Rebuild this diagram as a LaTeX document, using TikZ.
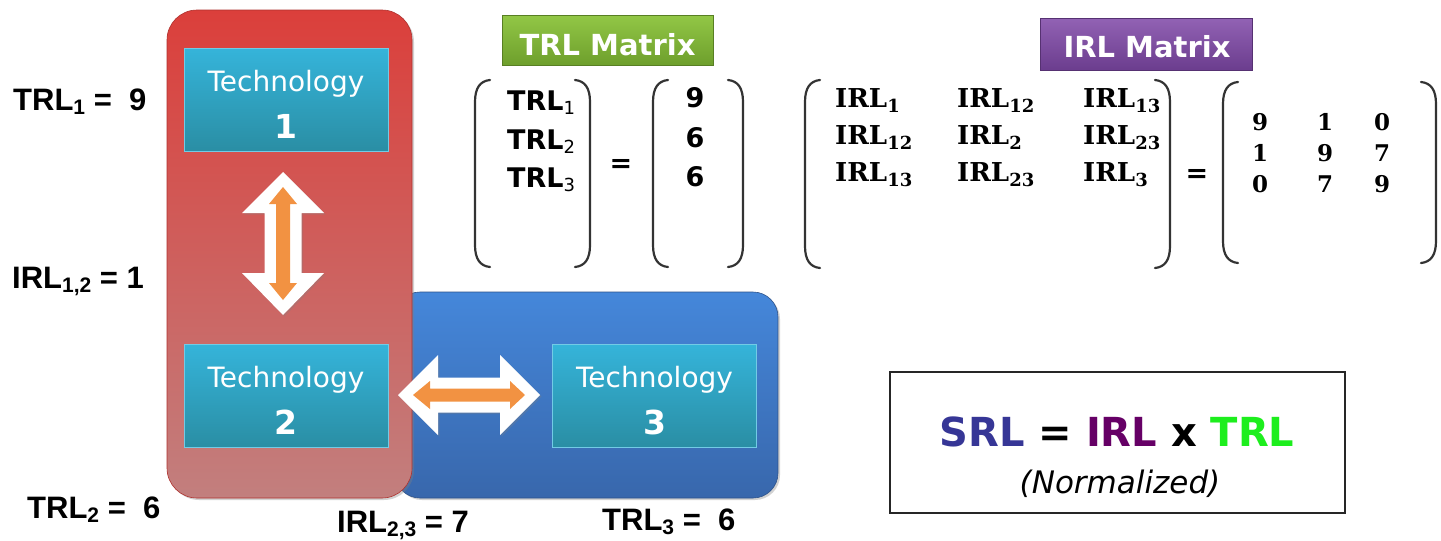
\documentclass[tikz,border=0pt]{standalone}
\usepackage{fontspec}
\setmainfont{Liberation Sans}
\newfontfamily\dvs{DejaVu Sans}
\newfontfamily\dvser{DejaVu Serif}
\usetikzlibrary{shadows,calc}
\newcommand{\myfs}[1]{\fontsize{#1}{#1}\selectfont}
\newcommand{\asub}[1]{\raisebox{-4pt}{\myfs{21}#1}}
\newcommand{\dsub}[1]{\raisebox{-4pt}{\mdseries\myfs{18}#1}}
\newcommand{\ssub}[1]{\raisebox{-5pt}{\myfs{18}#1}}
\definecolor{redtop}{HTML}{DB3F3B}
\definecolor{redmid}{HTML}{CD5350}
\definecolor{redbot}{HTML}{C27F7E}
\definecolor{bluetop}{HTML}{4587DA}
\definecolor{bluebot}{HTML}{3867AC}
\definecolor{tealtop}{HTML}{35B4DA}
\definecolor{tealbot}{HTML}{2A8EA4}
\definecolor{arrorange}{HTML}{F29242}
\definecolor{greentop}{HTML}{92C746}
\definecolor{greenbot}{HTML}{6E9F2C}
\definecolor{purptop}{HTML}{9262B4}
\definecolor{purpbot}{HTML}{6B3D8E}
\definecolor{srlblue}{HTML}{363696}
\definecolor{irlpurp}{HTML}{660066}
\definecolor{trlgreen}{HTML}{1DEE1D}
\newcommand{\brkL}[3]{\draw[brk] (#1+15,#2) .. controls (#1+5,#2+1) and (#1,#2+8) .. (#1,#2+22) -- (#1,#3-22) .. controls (#1,#3-8) and (#1+5,#3-1) .. (#1+15,#3);}
\newcommand{\brkR}[3]{\draw[brk] (#1-15,#2) .. controls (#1-5,#2+1) and (#1,#2+8) .. (#1,#2+22) -- (#1,#3-22) .. controls (#1,#3-8) and (#1-5,#3-1) .. (#1-15,#3);}
\tikzset{
  redbox/.style={rounded corners=30pt, top color=redtop, middle color=redmid, bottom color=redbot,
    draw=redtop!80!black, line width=0.6pt, inner sep=0pt,
    drop shadow={opacity=0.35, shadow xshift=2pt, shadow yshift=-2pt}},
  bluebox/.style={rounded corners=25pt, top color=bluetop, bottom color=bluebot,
    draw=bluebot!80!black, line width=0.6pt, inner sep=0pt,
    drop shadow={opacity=0.35, shadow xshift=2pt, shadow yshift=-2pt}},
  techbox/.style={minimum width=204pt, minimum height=103pt, inner sep=0pt,
    top color=tealtop, bottom color=tealbot, draw=tealtop!70!white, line width=0.8pt},
  techword/.style={anchor=base, inner sep=0pt, text=white, font=\dvs\myfs{28}},
  technum/.style={anchor=base, inner sep=0pt, text=white, font=\dvs\bfseries\myfs{33}},
  lbl/.style={anchor=base west, inner sep=0pt, font=\bfseries\myfs{31}},
  whitearrow/.style={fill=white, drop shadow={opacity=0.3, shadow xshift=1.5pt, shadow yshift=-1.5pt}},
  orangearrow/.style={fill=arrorange},
  brk/.style={draw=black!80, line width=2.2pt, line cap=round},
  trlent/.style={anchor=base west, inner sep=0pt, font=\dvs\bfseries\myfs{27}},
  trlnum/.style={anchor=base, inner sep=0pt, font=\dvs\bfseries\myfs{27}},
  irlent/.style={anchor=base west, inner sep=0pt, font=\dvser\bfseries\myfs{26}},
  irlnum/.style={anchor=base, inner sep=0pt, font=\dvser\bfseries\myfs{23}},
  eqs/.style={inner sep=0pt, font=\dvs\bfseries\myfs{27}},
  labbox/.style={inner sep=0pt, draw=#1bot!80!black, line width=0.6pt, top color=#1top, bottom color=#1bot},
  labtext/.style={anchor=base, inner sep=0pt, text=white, font=\dvs\bfseries\myfs{29}}
}
\begin{document}
\begin{tikzpicture}[x=1pt,y=-1pt]
\useasboundingbox[fill=white] (0,0) rectangle (1441,541);

% background panels
\node[bluebox, minimum width=383pt, minimum height=206pt] (blue) at (586.5,395) {};
\node[redbox, minimum width=245pt, minimum height=488pt] (red) at (289.5,254) {};

% technology boxes
\node[techbox] (t1) at (286,99.5) {};
\node[techword] (t1w) at (286,91) {Technology};
\node[technum] (t1n) at (286,138) {1};
\node[techbox] (t2) at (286,395.5) {};
\node[techword] (t2w) at (286,387) {Technology};
\node[technum] (t2n) at (286,434) {2};
\node[techbox] (t3) at (654.5,395.5) {};
\node[techword] (t3w) at (654.5,387) {Technology};
\node[technum] (t3n) at (654.5,434) {3};

% vertical double arrow (tech 1 <-> tech 2)
\path[whitearrow] (283,172) -- (324,213) -- (301.5,213) -- (301.5,273) -- (324,273) -- (283,315)
  -- (242,273) -- (264.5,273) -- (264.5,213) -- (242,213) -- cycle;
\path[orangearrow] (283,187) -- (297,204) -- (290,204) -- (290,283) -- (297,283) -- (283,300)
  -- (269,283) -- (276,283) -- (276,204) -- (269,204) -- cycle;

% horizontal double arrow (tech 2 <-> tech 3)
\path[whitearrow] (398,395) -- (438,355) -- (438,377.5) -- (500,377.5) -- (500,355) -- (540,395)
  -- (500,435) -- (500,412.5) -- (438,412.5) -- (438,435) -- cycle;
\path[orangearrow] (413,395) -- (430,381) -- (430,388.5) -- (510,388.5) -- (510,381) -- (525,395)
  -- (510,409) -- (510,401.5) -- (430,401.5) -- (430,409) -- cycle;

% side labels
\node[lbl] (l1) at (13,110) {TRL\asub{1} =\ \ 9};
\node[lbl] (l2) at (12,288) {IRL\asub{1,2} = 1};
\node[lbl] (l3) at (27,518) {TRL\asub{2} =\ \ 6};
\node[lbl] (l4) at (337,532) {IRL\asub{2,3} = 7};
\node[lbl] (l5) at (602,530) {TRL\asub{3} =\ \ 6};

% TRL matrix
\node[labbox=green, minimum width=211pt, minimum height=50pt] (trlbox) at (607.5,40) {};
\node[labtext] (trlt) at (607.5,55) {TRL Matrix};
\brkL{475}{80}{267}
\brkR{590}{80}{267}
\node[trlent] (tr1) at (507,110) {TRL\dsub{1}};
\node[trlent] (tr2) at (507,149) {TRL\dsub{2}};
\node[trlent] (tr3) at (507,187) {TRL\dsub{3}};
\node[eqs] (eq1) at (621,166) {=};
\brkL{653}{80}{267}
\brkR{743}{80}{267}
\node[trlnum] (n1) at (695,107) {9};
\node[trlnum] (n2) at (695,147) {6};
\node[trlnum] (n3) at (695,186) {6};

% IRL matrix
\node[labbox=purp, minimum width=212pt, minimum height=52pt] (irlbox) at (1146,44) {};
\node[labtext] (irlt) at (1147,57) {IRL Matrix};
\brkL{805}{80}{268}
\brkR{1170}{80}{268}
\node[irlent] (i11) at (835,107) {IRL\ssub{1}};
\node[irlent] (i12) at (957,107) {IRL\ssub{12}};
\node[irlent] (i13) at (1083,107) {IRL\ssub{13}};
\node[irlent] (i21) at (835,144) {IRL\ssub{12}};
\node[irlent] (i22) at (957,144) {IRL\ssub{2}};
\node[irlent] (i23) at (1083,144) {IRL\ssub{23}};
\node[irlent] (i31) at (835,181) {IRL\ssub{13}};
\node[irlent] (i32) at (957,181) {IRL\ssub{23}};
\node[irlent] (i33) at (1083,181) {IRL\ssub{3}};
\node[eqs] (eq2) at (1197,176) {=};
\brkL{1223}{82}{263}
\brkR{1436}{82}{263}
\node[irlnum] (m11) at (1260,130) {9};
\node[irlnum] (m12) at (1325,130) {1};
\node[irlnum] (m13) at (1382,130) {0};
\node[irlnum] (m21) at (1260,161) {1};
\node[irlnum] (m22) at (1325,161) {9};
\node[irlnum] (m23) at (1382,161) {7};
\node[irlnum] (m31) at (1260,192) {0};
\node[irlnum] (m32) at (1325,192) {7};
\node[irlnum] (m33) at (1382,192) {9};

% SRL formula box
\node[draw=black!85, line width=1.8pt, minimum width=455pt, minimum height=141pt, inner sep=0pt] (srl) at (1117.5,442.5) {};
\node[anchor=base, inner sep=0pt, font=\dvs\bfseries\myfs{40}] (srlt) at (1117,446)
  {\textcolor{srlblue}{SRL} = \textcolor{irlpurp}{IRL} x \textcolor{trlgreen}{TRL}};
\node[anchor=base, inner sep=0pt, font=\dvs\itshape\myfs{31}] (norm) at (1120,493) {(Normalized)};
\end{tikzpicture}
\end{document}
